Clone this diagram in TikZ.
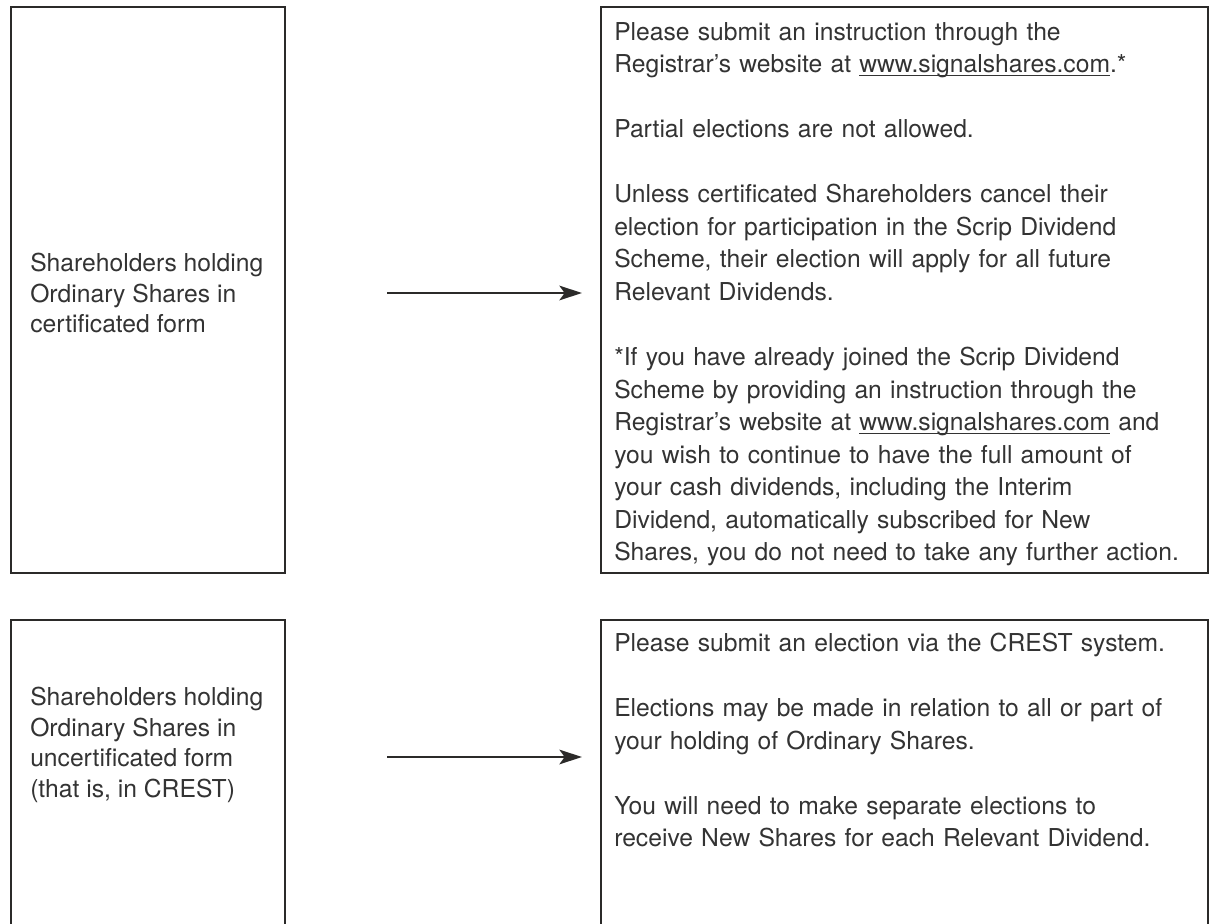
\documentclass[tikz,border=0pt]{standalone}
\usepackage{fontspec}
\setmainfont{TeX Gyre Heros}
\usetikzlibrary{arrows.meta}
\definecolor{ink}{HTML}{2B2A29}
\definecolor{txt}{HTML}{333333}
\newcommand\myul[1]{\setbox0\hbox{#1}\rlap{\rule[-2.6pt]{\wd0}{0.7pt}}\box0\relax}
\begin{document}
\begin{tikzpicture}[x=0.75pt,y=-0.75pt,
  box/.style={draw=ink, line width=1.6pt, inner sep=0pt, anchor=north west, rectangle},
  lefttext/.style={inner sep=0pt, anchor=west, align=left, text=txt, font=\fontsize{18.5pt}{23pt}\selectfont},
  righttext/.style={inner sep=0pt, anchor=north west, align=left, text width=470pt, text=txt, font=\fontsize{18.5pt}{24.4pt}\selectfont},
  arr/.style={draw=ink, line width=1.4pt, -{Stealth[length=17pt,width=11pt,inset=4pt]}}
]
\useasboundingbox (0,0) rectangle (1215,924);
\clip (0,0) rectangle (1215,924);
% boxes
\node[box, minimum width=205.5pt, minimum height=424.5pt] (tl) at (10,6) {};
\node[box, minimum width=455.25pt, minimum height=424.5pt] (tr) at (600,6) {};
\node[box, minimum width=205.5pt, minimum height=250pt] (bl) at (10,619) {};
\node[box, minimum width=455.25pt, minimum height=250pt] (br) at (600,619) {};
% left texts
\node[lefttext] (tlt) at (30,293) {Shareholders holding\\Ordinary Shares in\\certificated form};
\node[lefttext] (blt) at (30,745) {Shareholders holding\\Ordinary Shares in\\uncertificated form\\(that is, in CREST)};
% right texts
\node[righttext] (trt) at (614,22) {Please submit an instruction through the\\
Registrar’s website at \myul{www.signalshares.com}.*\\[24.4pt]
Partial elections are not allowed.\\[24.4pt]
Unless certificated Shareholders cancel their\\
election for participation in the Scrip Dividend\\
Scheme, their election will apply for all future\\
Relevant Dividends.\\[24.4pt]
*If you have already joined the Scrip Dividend\\
Scheme by providing an instruction through the\\
Registrar’s website at \myul{www.signalshares.com} and\\
you wish to continue to have the full amount of\\
your cash dividends, including the Interim\\
Dividend, automatically subscribed for New\\
Shares, you do not need to take any further action.};
\node[righttext] (brt) at (614,633) {Please submit an election via the CREST system.\\[24.4pt]
Elections may be made in relation to all or part of\\
your holding of Ordinary Shares.\\[24.4pt]
You will need to make separate elections to\\
receive New Shares for each Relevant Dividend.};
% arrows
\coordinate (a1) at (387,293);
\coordinate (a2) at (387,757);
\draw[arr, shorten >=13.5pt] (a1) -- (tr.west |- a1);
\draw[arr, shorten >=13.5pt] (a2) -- (br.west |- a2);
\end{tikzpicture}
\end{document}
